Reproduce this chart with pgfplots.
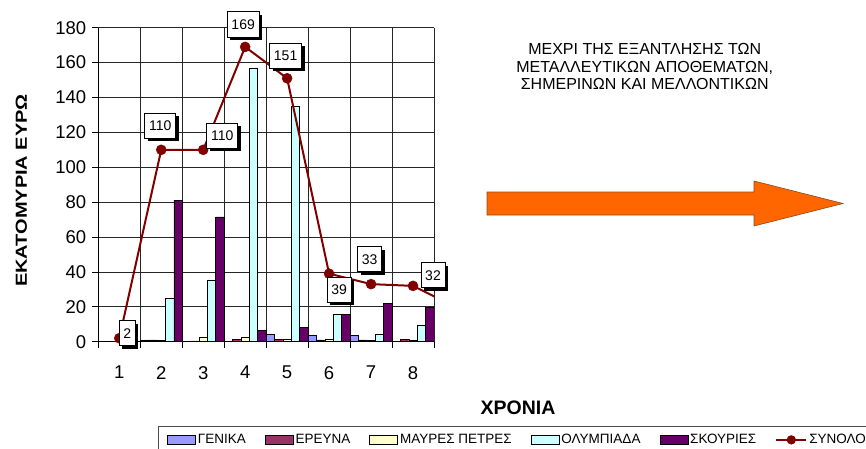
\documentclass[border=0pt]{standalone}
\usepackage{fontspec}
\setmainfont{Liberation Sans}
\usepackage{pgfplots}
\usepackage{pgfplotstable}
\pgfplotsset{compat=1.18}
\usetikzlibrary{shadows}
\definecolor{cGen}{HTML}{9999FF}
\definecolor{cEre}{HTML}{993366}
\definecolor{cMay}{HTML}{FFFFCC}
\definecolor{cOly}{HTML}{CCFFFF}
\definecolor{cSko}{HTML}{660066}
\definecolor{cSyn}{HTML}{800000}
\definecolor{cArr}{HTML}{FF6600}
\definecolor{cArrD}{HTML}{8B4A1C}

\pgfplotstableread{
x gen ere may oly sko
1 0 0 0 0 0
2 1 1 1 25 81
3 0 0.5 2.3 35 71.5
4 0 1.5 2.3 157 6.7
5 4.4 1.3 1.3 135 8
6 3.8 1 1.3 15.8 15.8
7 3.8 1 1 4.4 22
8 0 1.5 1 9.5 19.6
}\bars

\pgfplotstableread{
x y
1 2
2 110
3 110
4 169
5 151
6 39
7 33
8 32
9 20
}\total

\pgfplotstableread{
x y lab dx dy
1 2 2 8 5
2 110 110 -1 24
3 110 110 19 14
4 169 169 -2 22.4
5 151 151 -1.5 22.5
6 39 39 10 -16
7 33 33 -1.5 25
8 32 32 20 10.7
}\labels

\pgfplotsset{
  barleg/.style={legend image code/.code={\draw[##1, line width=0.7pt] (0pt,-4.5pt) rectangle (28pt,4.5pt);}},
}

\begin{document}
\begin{tikzpicture}
\useasboundingbox (-98.3pt,-106.3pt) rectangle (767.7pt,341.7pt);
\clip (-98.3pt,-106.3pt) rectangle (767.7pt,341.7pt);
\begin{axis}[
  at={(0pt,0pt)}, anchor=south west,
  scale only axis, width=335.7pt, height=314pt,
  xmin=0.5, xmax=8.5, ymin=0, ymax=180,
  axis x line*=bottom, axis y line*=left,
  axis line style={black, line width=0.8pt},
  tick align=outside, major tick length=6.5pt,
  tick style={black, line width=0.8pt},
  ytick={0,20,...,180},
  xtick={0.5,1.5,...,8.5}, xticklabels={},
  extra x ticks={1,2,3,4,5,6,7,8},
  extra x tick labels={1,2,3,4,5,6,7,8},
  extra x tick style={grid=none, major tick length=0pt, xticklabel style={yshift=-21pt}},
  xmajorgrids, ymajorgrids,
  grid style={black!85, line width=0.8pt},
  /pgf/number format/assume math mode=true,
  ticklabel style={font=\fontsize{18.5}{20}\selectfont, text=black},
  yticklabel style={xshift=-2pt},
  ylabel={\textbf{ΕΚΑΤΟΜΥΡΙΑ ΕΥΡΩ}},
  ylabel style={at={(axis description cs:-0.2294,0.4815)}, anchor=center, font=\fontsize{16}{18}\selectfont, xscale=1.25},
  xlabel={\textbf{ΧΡΟΝΙΑ}},
  xlabel style={at={(axis description cs:1.2502,-0.2111)}, anchor=center, font=\fontsize{19.5}{21}\selectfont},
  legend columns=-1,
  legend style={at={(axis description cs:0.1773,-0.2685)}, anchor=north west,
    draw=black!70, line width=0.8pt, font=\fontsize{13.5}{15}\selectfont,
    inner xsep=9pt, inner ysep=6pt,
    /tikz/every even column/.append style={column sep=17pt}},
]
\addplot[ybar, bar width=8.39pt, bar shift=-16.78pt, fill=cGen, draw=black, line width=0.6pt, barleg] table[x=x, y=gen] \bars;
\addlegendentry{ΓΕΝΙΚΑ}
\addplot[ybar, bar width=8.39pt, bar shift=-8.39pt, fill=cEre, draw=black, line width=0.6pt, barleg] table[x=x, y=ere] \bars;
\addlegendentry{ΕΡΕΥΝΑ}
\addplot[ybar, bar width=8.39pt, bar shift=0pt, fill=cMay, draw=black, line width=0.6pt, barleg] table[x=x, y=may] \bars;
\addlegendentry{ΜΑΥΡΕΣ ΠΕΤΡΕΣ}
\addplot[ybar, bar width=8.39pt, bar shift=8.39pt, fill=cOly, draw=black, line width=0.6pt, barleg] table[x=x, y=oly] \bars;
\addlegendentry{ΟΛΥΜΠΙΑΔΑ}
\addplot[ybar, bar width=8.39pt, bar shift=16.78pt, fill=cSko, draw=black, line width=0.6pt, barleg] table[x=x, y=sko] \bars;
\addlegendentry{ΣΚΟΥΡΙΕΣ}
\addplot[sharp plot, cSyn, line width=2pt, mark=*, mark size=5pt, mark indices={1,2,3,4,5,6,7,8},
  mark options={fill=cSyn, draw=cSyn, line width=0.5pt},
  legend image code/.code={\draw[cSyn, line width=2pt] (0pt,0pt) -- (30pt,0pt); \fill[cSyn] (15pt,0pt) circle (3.6pt);}] table[x=x, y=y] \total;
\addlegendentry{ΣΥΝΟΛΟ}
\addplot[sharp plot, draw=none, mark=none, forget plot,
  nodes near coords, point meta=explicit symbolic,
  visualization depends on={\thisrow{dx} \as \dx},
  visualization depends on={\thisrow{dy} \as \dy},
  every node near coord/.append style={anchor=center, xshift=\dx pt, yshift=\dy pt,
    draw=black, fill=white, line width=0.8pt, text=black,
    inner xsep=4.2pt, inner ysep=7.5pt, text height=10.2pt, text depth=0pt,
    font=\fontsize{14}{16}\selectfont,
    drop shadow={shadow xshift=3pt, shadow yshift=-3pt, fill=black, opacity=1}}]
  table[x=x, y=y, meta=lab] \labels;
\end{axis}
% decorative arrow
\draw[cArrD, line width=0.6pt, fill=cArr]
  (388.7pt,149.7pt) -- (655.7pt,149.7pt) -- (655.7pt,160.7pt) -- (744.7pt,138.2pt)
  -- (655.7pt,115.7pt) -- (655.7pt,126.7pt) -- (388.7pt,126.7pt) -- cycle;
\node[align=center, font=\fontsize{16}{17.5}\selectfont, text=black] at (546.4pt,275pt)
  {ΜΕΧΡΙ ΤΗΣ ΕΞΑΝΤΛΗΣΗΣ ΤΩΝ\\ΜΕΤΑΛΛΕΥΤΙΚΩΝ ΑΠΟΘΕΜΑΤΩΝ,\\ΣΗΜΕΡΙΝΩΝ ΚΑΙ ΜΕΛΛΟΝΤΙΚΩΝ};
\end{tikzpicture}
\end{document}
